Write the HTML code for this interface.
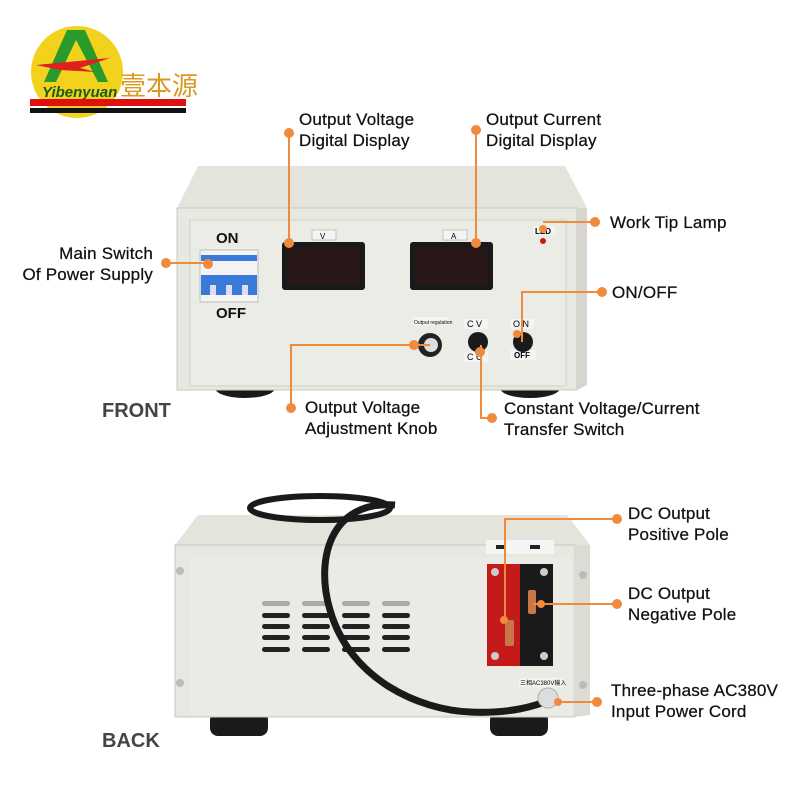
<!DOCTYPE html>
<html><head><meta charset="utf-8"><style>
body{margin:0;background:#fff}
svg{display:block}
text{font-family:"Liberation Sans","Noto Sans CJK SC",sans-serif}
.l{font-size:17px;fill:#111;letter-spacing:0.2px;stroke:#111;stroke-width:0.25}
</style></head><body>
<svg width="800" height="800" viewBox="0 0 800 800" xmlns="http://www.w3.org/2000/svg">
<circle cx="77" cy="72" r="46" fill="#f2d21c"/>
<polygon points="67,30 85,30 108,82 98,82 76,40 56,82 44,82" fill="#2a9a2a"/>
<polygon points="36,65 110,58 80,68 96,72 60,70" fill="#e02020"/>
<text x="42" y="97" font-size="15" font-style="italic" font-weight="bold" fill="#1a5a1a" font-family="Liberation Serif,serif">Yibenyuan</text>
<text x="120" y="95" font-size="26" fill="#d89a20" font-family="Noto Serif CJK SC,serif">壹本源</text>
<rect x="30" y="99" width="156" height="7" fill="#e01010"/>
<rect x="30" y="108" width="156" height="5" fill="#111"/>

<ellipse cx="245" cy="388" rx="30" ry="10" fill="#1a1a1a"/>
<ellipse cx="530" cy="388" rx="30" ry="10" fill="#1a1a1a"/>
<polygon points="198,166 565,166 587,208 177,208" fill="#e4e4dc"/>
<rect x="177" y="208" width="400" height="182" fill="#e8e8e2" stroke="#c8c8c0"/>
<polygon points="577,208 587,208 587,385 577,390" fill="#d6d6ce"/>
<rect x="190" y="220" width="376" height="166" fill="#ececE6" stroke="#cfcfc8"/>
<text x="216" y="243" font-size="15" font-weight="bold" fill="#111">ON</text>
<text x="216" y="318" font-size="15" font-weight="bold" fill="#111">OFF</text>
<rect x="200" y="250" width="58" height="52" fill="#f4f4f4" stroke="#bbb"/>
<rect x="201" y="255" width="56" height="6" fill="#3a7ad8"/>
<rect x="201" y="275" width="56" height="20" fill="#3a7ad8"/>
<rect x="210" y="285" width="6" height="10" fill="#dde"/><rect x="226" y="285" width="6" height="10" fill="#dde"/><rect x="242" y="285" width="6" height="10" fill="#dde"/>
<rect x="312" y="230" width="24" height="10" fill="#f4f4f4" stroke="#999" stroke-width=".5"/><text x="320" y="239" font-size="8">V</text>
<rect x="443" y="230" width="24" height="10" fill="#f4f4f4" stroke="#999" stroke-width=".5"/><text x="451" y="239" font-size="8">A</text>
<rect x="282" y="242" width="83" height="48" rx="3" fill="#1a1a1a"/><rect x="287" y="248" width="73" height="36" fill="#2a1818"/>
<rect x="410" y="242" width="83" height="48" rx="3" fill="#1a1a1a"/><rect x="415" y="248" width="73" height="36" fill="#2a1818"/>
<rect x="533" y="226" width="22" height="9" fill="#f4f4f4"/><text x="535" y="234" font-size="8" font-weight="bold">LED</text>
<circle cx="543" cy="241" r="3" fill="#c02010"/>
<rect x="413" y="317" width="36" height="8" fill="#f4f4f4"/><text x="414" y="324" font-size="5">Output regulation</text>
<circle cx="430" cy="345" r="12" fill="#222"/><circle cx="431" cy="345" r="7" fill="#ddd"/>
<rect x="464" y="319" width="24" height="10" fill="#f4f4f4"/><text x="467" y="327" font-size="9">C  V</text>
<rect x="464" y="352" width="24" height="10" fill="#f4f4f4"/><text x="467" y="360" font-size="9">C  C</text>
<circle cx="478" cy="342" r="10" fill="#1a1a1a"/>
<rect x="510" y="319" width="24" height="10" fill="#f4f4f4"/><text x="513" y="327" font-size="9">O  N</text>
<rect x="510" y="350" width="26" height="10" fill="#f4f4f4"/><text x="514" y="358" font-size="8" font-weight="bold">OFF</text>
<circle cx="523" cy="342" r="10" fill="#1a1a1a"/>
<text x="102" y="417" font-size="20" font-weight="bold" fill="#444">FRONT</text>

<rect x="210" y="712" width="58" height="24" rx="8" fill="#1a1a1a"/>
<rect x="490" y="712" width="58" height="24" rx="8" fill="#1a1a1a"/>
<polygon points="198,515 567,515 590,545 175,545" fill="#e4e4dc"/>
<rect x="175" y="545" width="400" height="172" fill="#e8e8e2" stroke="#c8c8c0"/>
<polygon points="575,545 590,545 590,715 575,717" fill="#dcdcd4"/>
<rect x="190" y="557" width="382" height="158" fill="#ebebe5"/>
<circle cx="180" cy="571" r="4" fill="#bbb"/><circle cx="180" cy="683" r="4" fill="#bbb"/>
<circle cx="583" cy="575" r="4" fill="#bbb"/><circle cx="583" cy="685" r="4" fill="#bbb"/>
<g fill="#222">
<g id="v"><rect x="262" y="601" width="28" height="5" rx="2.5" fill="#aaa"/><rect x="262" y="613" width="28" height="5" rx="2.5"/><rect x="262" y="624" width="28" height="5" rx="2.5"/><rect x="262" y="635" width="28" height="5" rx="2.5"/><rect x="262" y="647" width="28" height="5" rx="2.5"/></g>
<use href="#v" x="40"/><use href="#v" x="80"/><use href="#v" x="120"/>
</g>
<rect x="486" y="540" width="68" height="14" fill="#f4f4f4"/>
<rect x="496" y="545" width="10" height="4" fill="#222"/><rect x="530" y="545" width="10" height="4" fill="#222"/>
<rect x="487" y="564" width="33" height="102" fill="#c41a1a"/>
<rect x="520" y="564" width="33" height="102" fill="#1a1a1a"/>
<circle cx="495" cy="572" r="4" fill="#ccc"/><circle cx="544" cy="572" r="4" fill="#ccc"/><circle cx="495" cy="656" r="4" fill="#ccc"/><circle cx="544" cy="656" r="4" fill="#ccc"/>
<rect x="528" y="590" width="8" height="24" rx="2" fill="#c87848"/>
<rect x="505" y="620" width="9" height="26" rx="2" fill="#c87848"/>
<rect x="519" y="678" width="44" height="9" fill="#f4f4f4"/><text x="520" y="685" font-size="6">三相AC380V输入</text>
<ellipse cx="320" cy="508" rx="70" ry="12" fill="none" stroke="#1a1a1a" stroke-width="6"/>
<path d="M395 505 C330 500 315 560 330 610 C350 680 420 710 470 712 C510 714 535 706 550 700" fill="none" stroke="#1a1a1a" stroke-width="7"/>
<circle cx="548" cy="698" r="10" fill="#ddd" stroke="#aaa"/>
<text x="102" y="747" font-size="20" font-weight="bold" fill="#444">BACK</text>

<g stroke="#f08a3c" stroke-width="2" fill="none">
<path d="M289 131 V243"/><path d="M476 131 V243"/>
<path d="M166 263 H208"/>
<path d="M543 222 H595"/>
<path d="M522 342 V292 H602"/>
<path d="M430 345 H291 V408"/>
<path d="M481 345 V418 H492"/>
<path d="M617 519 H505 V620"/>
<path d="M533 604 H617"/>
<path d="M558 702 H597"/>
</g>
<g fill="#f08a3c">
<circle cx="289" cy="133" r="5"/><circle cx="289" cy="243" r="5"/>
<circle cx="476" cy="130" r="5"/><circle cx="476" cy="243" r="5"/>
<circle cx="166" cy="263" r="5"/><circle cx="208" cy="264" r="5"/>
<circle cx="595" cy="222" r="5"/><circle cx="543" cy="229" r="4"/>
<circle cx="602" cy="292" r="5"/><circle cx="517" cy="334" r="4"/>
<circle cx="414" cy="345" r="5"/><circle cx="291" cy="408" r="5"/>
<circle cx="480" cy="352" r="5"/><circle cx="492" cy="418" r="5"/>
<circle cx="617" cy="519" r="5"/><circle cx="504" cy="620" r="4"/>
<circle cx="617" cy="604" r="5"/><circle cx="541" cy="604" r="4"/>
<circle cx="597" cy="702" r="5"/><circle cx="558" cy="702" r="4"/>
</g>
<text class="l" x="299" y="125">Output Voltage</text><text class="l" x="299" y="146">Digital Display</text>
<text class="l" x="486" y="125">Output Current</text><text class="l" x="486" y="146">Digital Display</text>
<text class="l" x="153" y="259" text-anchor="end">Main Switch</text><text class="l" x="153" y="280" text-anchor="end">Of Power Supply</text>
<text class="l" x="610" y="228">Work Tip Lamp</text>
<text class="l" x="612" y="298">ON/OFF</text>
<text class="l" x="305" y="413">Output Voltage</text><text class="l" x="305" y="434">Adjustment Knob</text>
<text class="l" x="504" y="414">Constant Voltage/Current</text><text class="l" x="504" y="435">Transfer Switch</text>
<text class="l" x="628" y="519">DC Output</text><text class="l" x="628" y="540">Positive Pole</text>
<text class="l" x="628" y="599">DC Output</text><text class="l" x="628" y="620">Negative Pole</text>
<text class="l" x="611" y="696">Three-phase AC380V</text><text class="l" x="611" y="717">Input Power Cord</text>
</svg>
</body></html>
